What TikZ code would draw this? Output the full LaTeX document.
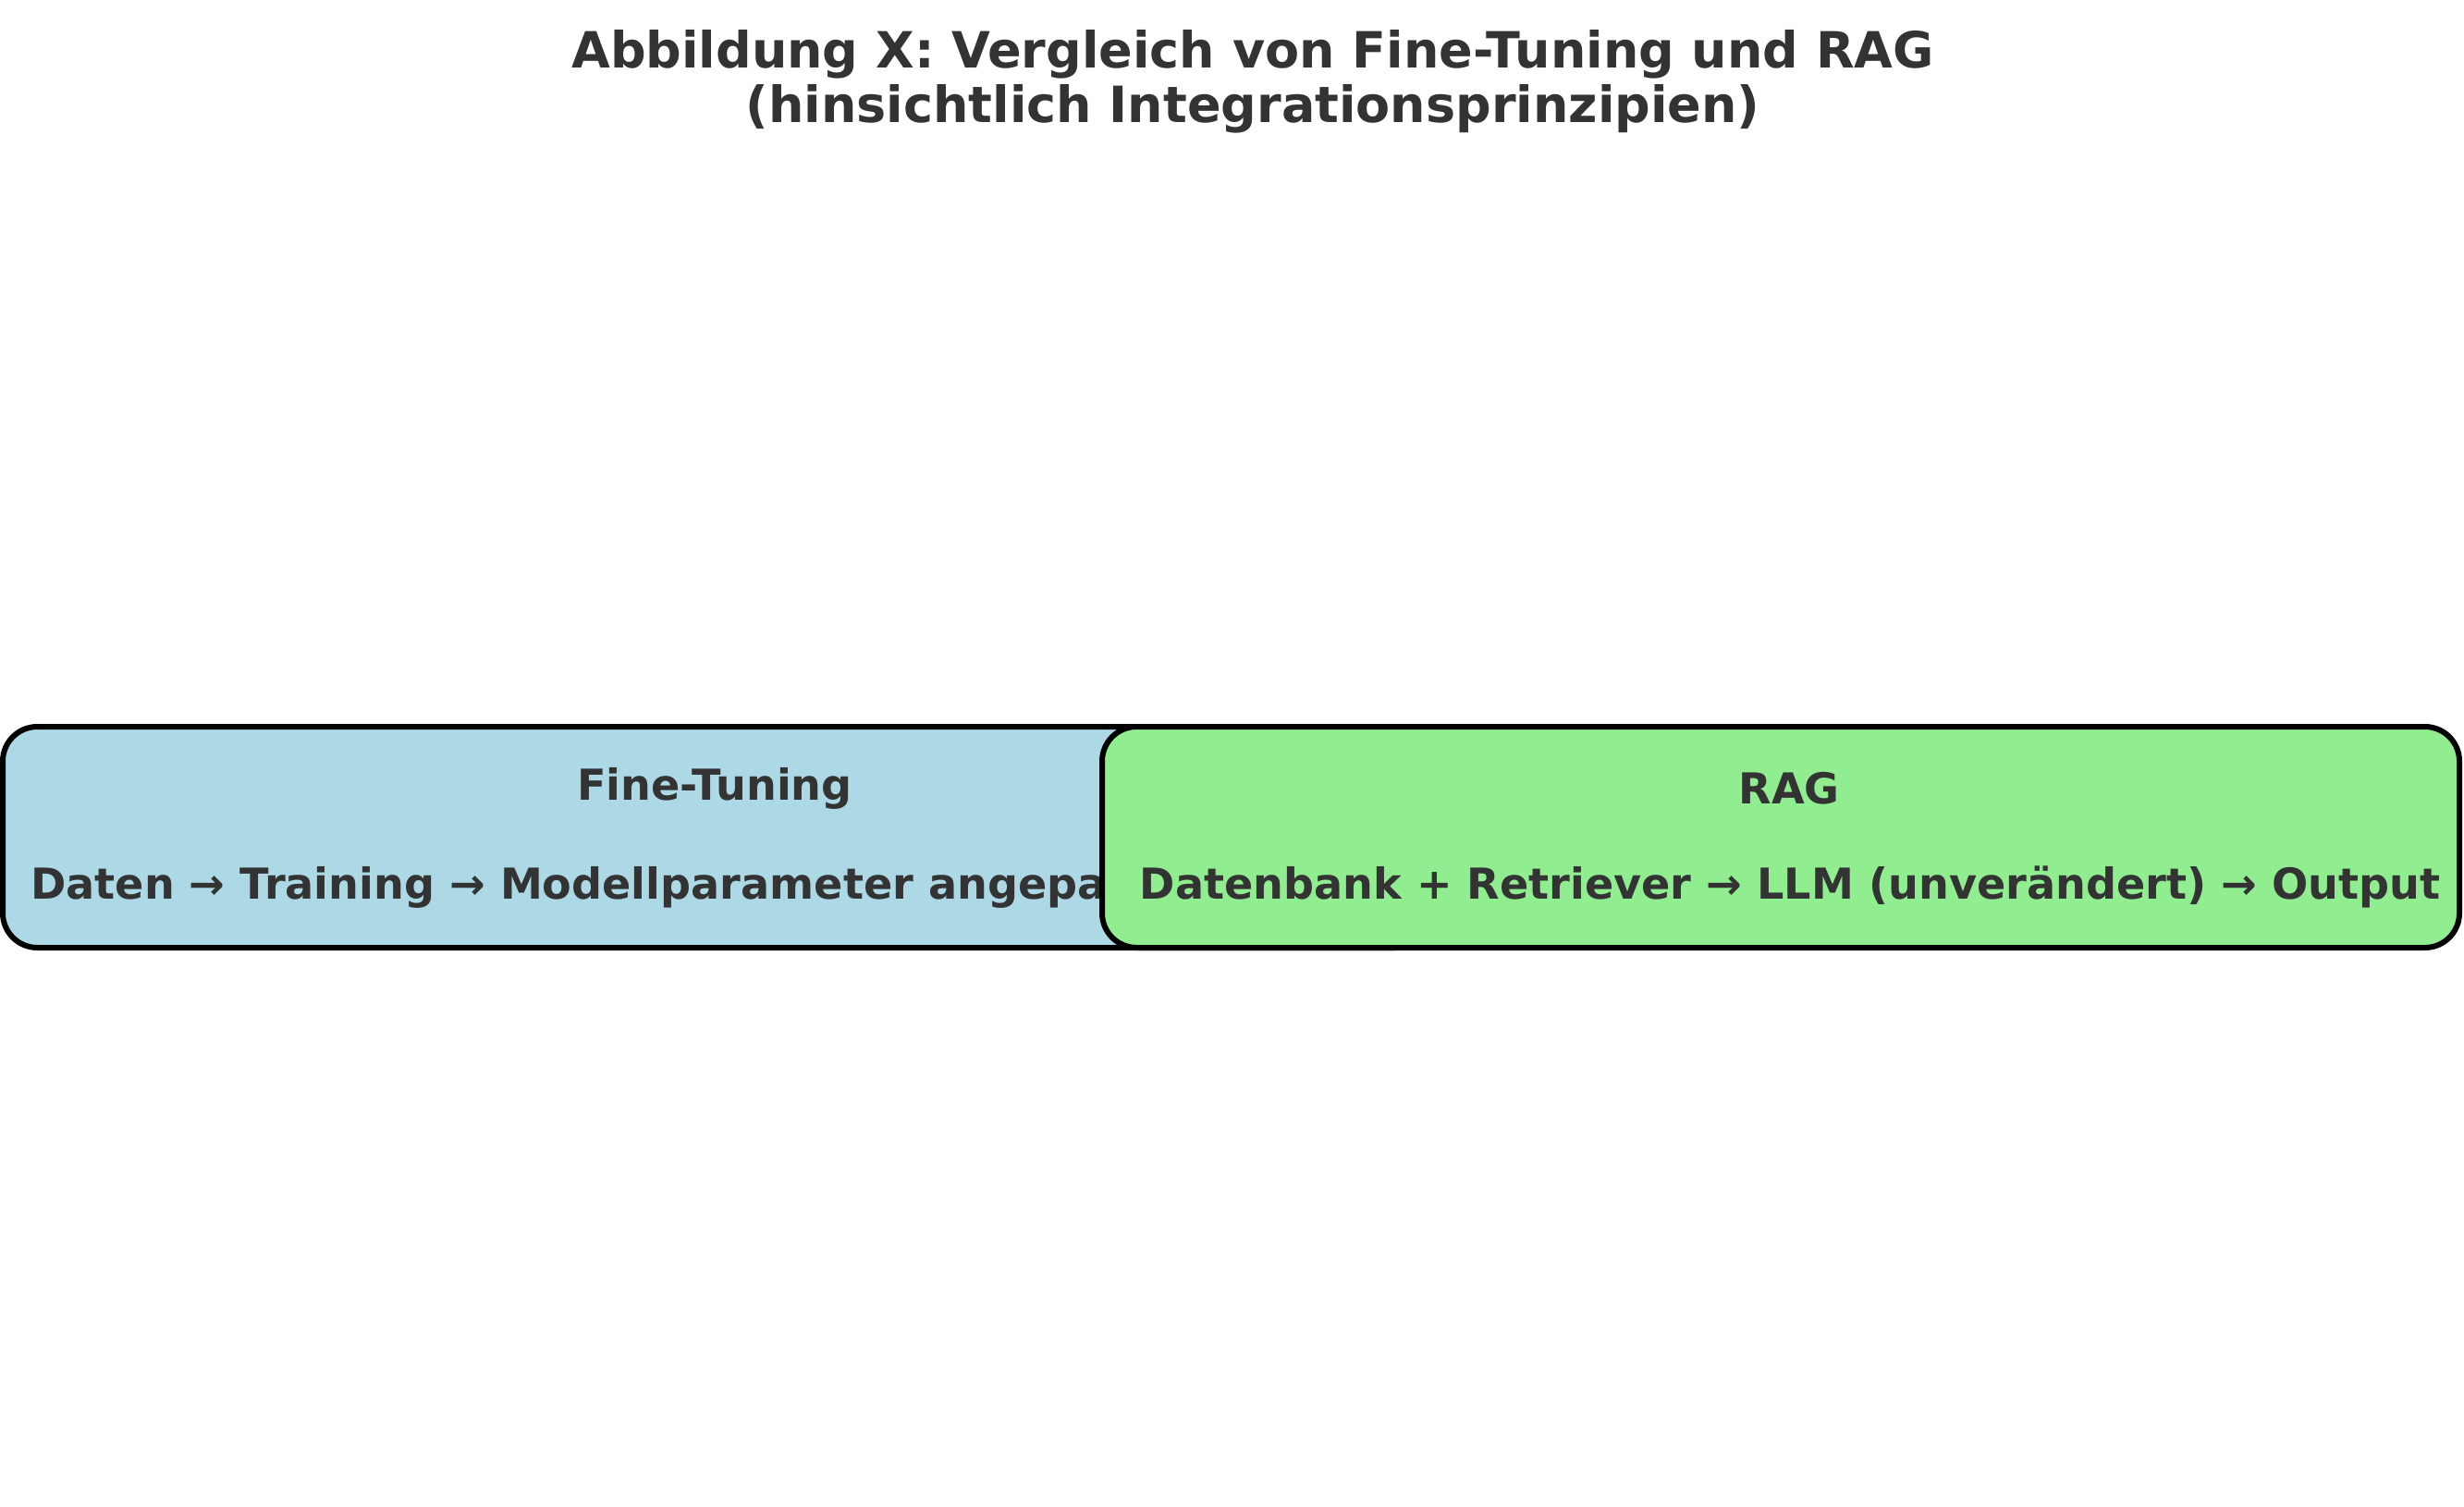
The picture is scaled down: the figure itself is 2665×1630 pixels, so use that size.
\documentclass[tikz,border=0pt]{standalone}
\usepackage{fontspec}
\setmainfont{DejaVu Sans}
\definecolor{txt}{HTML}{333333}
\definecolor{ftfill}{HTML}{ADD8E6}
\definecolor{ragfill}{HTML}{90EE90}
\begin{document}
\begin{tikzpicture}[x=0.75pt,y=-0.75pt,
  panel/.style={draw=black, line width=4.5pt, rounded corners=28pt, inner sep=0pt},
  ttl/.style={text=txt, font=\fontsize{40.5}{44.5}\selectfont\bfseries, align=center, inner sep=0pt},
  lbl/.style={text=txt, font=\fontsize{34.6}{42}\selectfont\bfseries, inner sep=0pt}]
\useasboundingbox (0,0) rectangle (2665,1630);
\fill[white] (0,0) rectangle (2665,1630);
\node[ttl] (title) at (1355,88) {Abbildung X: Vergleich von Fine-Tuning und RAG\\(hinsichtlich Integrationsprinzipien)};
% Fine-Tuning panel
\node[panel, fill=ftfill, minimum width=1542*0.75pt, minimum height=239*0.75pt] (ft) at (774,905.5) {};
\node[lbl] (fthead) at (773,853) {Fine-Tuning};
\node[lbl, anchor=base west] (ftbody) at (33,972) {Daten → Training → Modellparameter angepasst};
% RAG panel
\node[panel, fill=ragfill, minimum width=1468*0.75pt, minimum height=239*0.75pt] (rag) at (1926,905.5) {};
\node[lbl] (raghead) at (1935,853) {RAG};
\node[lbl, anchor=base] (ragbody) at (1936,972) {Datenbank + Retriever → LLM (unverändert) → Output};
\end{tikzpicture}
\end{document}
